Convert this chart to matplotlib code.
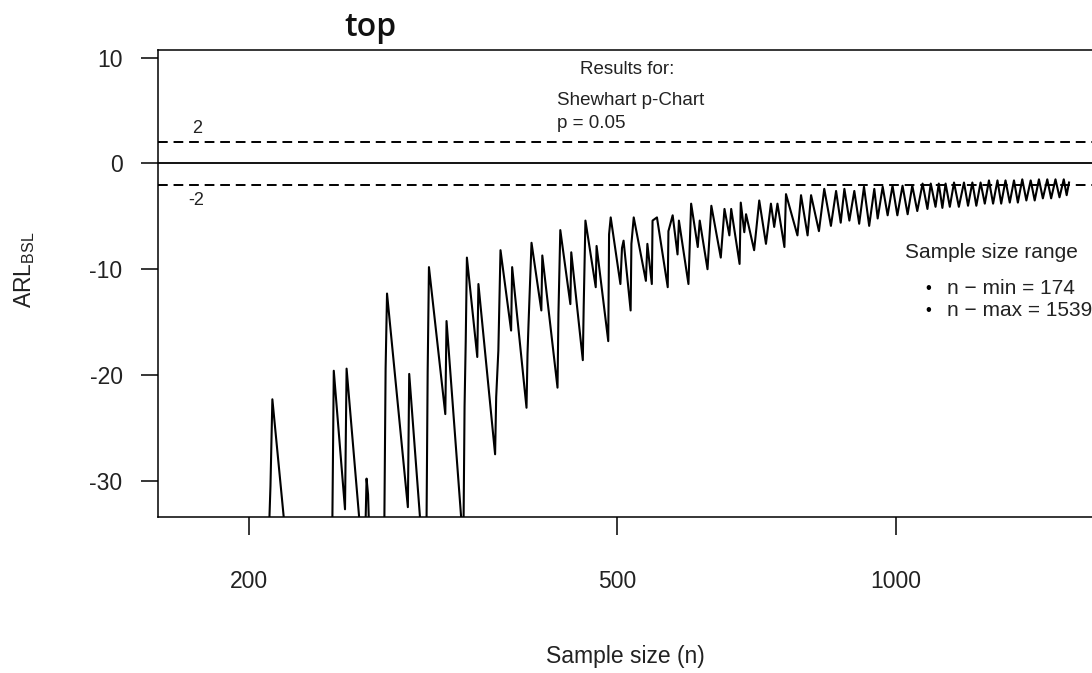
import matplotlib
matplotlib.use('Agg')
import matplotlib.pyplot as plt

plt.rcParams['font.family'] = ['Liberation Sans', 'DejaVu Sans']
plt.rcParams['axes.unicode_minus'] = False

# turning points of the ARL_BSL curve
# (values under the axis floor are parked at -36 so they get clipped)
n_points = [174, 210, 211, 212, 218, 219,
            246, 247, 254, 255, 263, 264,
            267, 268, 269, 270,
            280, 281, 282, 297, 298, 306, 307,
            311, 312, 313, 326, 327, 339, 340,
            341, 342, 343, 344, 353, 354, 369, 370, 372, 374,
            384, 385, 399, 400, 401, 404,
            414, 415, 431, 432, 434,
            445, 446, 459, 460, 462,
            474, 475, 489, 490, 492,
            504, 506, 508, 517, 518, 521,
            537, 539, 545, 546, 552, 567, 568, 574,
            581, 583, 597, 601,
            611, 614, 626, 632, 647, 653, 661, 664,
            678, 680, 686, 689, 703, 712, 724, 733,
            739, 745, 758, 761, 783, 790, 803, 810,
            826, 837, 851, 862, 872, 880, 891, 902,
            913, 924, 936, 948, 956, 968, 980, 992,
            1004, 1017, 1030, 1042, 1055, 1069, 1082, 1091,
            1104, 1113, 1123, 1132, 1144, 1156, 1170, 1185,
            1197, 1210, 1222, 1235, 1248, 1261, 1274, 1288,
            1300, 1314, 1328, 1342, 1355, 1370, 1384, 1399,
            1413, 1428, 1442, 1458, 1472, 1488, 1503, 1519,
            1530, 1539]
arl_points = [-36, -36, -30.5, -22.3, -33.3, -36,
              -36, -19.6, -32.7, -19.4, -33.3, -36,
              -36, -29.8, -31.3, -36,
              -36, -19.4, -12.3, -32.5, -19.9, -33.3, -36,
              -36, -19.7, -9.8, -23.7, -14.9, -33.3, -36,
              -36, -23.0, -16.8, -8.9, -18.3, -11.4, -27.5, -22.1, -17.7, -8.2,
              -15.8, -9.8, -23.1, -18.0, -15.2, -7.5,
              -13.9, -8.7, -21.2, -14.2, -6.3,
              -13.3, -8.4, -18.6, -13.6, -5.4,
              -11.7, -7.8, -16.8, -6.7, -5.1,
              -11.4, -8.0, -7.3, -13.9, -7.6, -5.1,
              -11.1, -7.6, -11.4, -5.4, -5.1, -11.7, -6.4, -4.9,
              -8.6, -5.4, -11.4, -3.8,
              -7.9, -5.4, -10.0, -4.0, -8.9, -4.3, -6.8, -4.3,
              -9.5, -3.7, -6.5, -4.8, -8.2, -3.5, -7.6, -3.8,
              -6.0, -3.8, -7.9, -2.9, -6.8, -3.0, -6.8, -3.0,
              -6.4, -2.4, -5.9, -2.6, -5.6, -2.4, -5.4, -2.6,
              -5.7, -2.2, -5.9, -2.4, -5.2, -2.2, -4.9, -2.1,
              -4.9, -2.1, -4.8, -2.1, -4.5, -1.9, -4.3, -1.9,
              -4.1, -1.9, -4.2, -1.9, -4.1, -1.8, -4.1, -1.8,
              -4.0, -1.8, -4.0, -1.8, -3.8, -1.6, -3.8, -1.6,
              -3.8, -1.6, -3.7, -1.6, -3.7, -1.5, -3.5, -1.6,
              -3.5, -1.5, -3.3, -1.5, -3.3, -1.5, -3.2, -1.5,
              -3.0, -1.8]

x_ticks = [200, 500, 1000]
y_ticks = [-30, -20, -10, 0, 10]
band = 2
n_min = 174
n_max = 1539

fig = plt.figure(figsize=(10.92, 6.73), dpi=100)
# the right edge of the plot box runs past the picture, as in the original
ax = fig.add_axes([0.1447, 0.2318, 0.8663, 0.6939])

ax.plot(n_points, arl_points, color='black', lw=1.5)
ax.axhline(0, color='black', lw=1.3)
ax.axhline(band, color='black', lw=1.4, dashes=(5, 3))
ax.axhline(-band, color='black', lw=1.4, dashes=(5, 3))

ax.set_xscale('log')
ax.set_xlim(159.5, 1679)
ax.set_ylim(-33.43, 10.73)
ax.set_xticks(x_ticks)
ax.set_xticklabels([str(t) for t in x_ticks])
ax.minorticks_off()
ax.set_yticks(y_ticks)
ax.set_yticklabels([str(t) for t in y_ticks])
ax.tick_params(axis='x', length=13, width=1.1, pad=25, labelsize=16.5, colors='#222222')
ax.tick_params(axis='y', length=12.5, width=1.1, pad=13, labelsize=16.5, colors='#222222')
ax.tick_params(color='black')
for s in ax.spines.values():
    s.set_linewidth(1.1)

ax.text(176, band + 1.35, str(band), ha='center', va='center', fontsize=13, color='#222222')
ax.text(175.3, -band - 1.5, str(-band), ha='center', va='center', fontsize=13, color='#222222')

fig.text(0.3388, 0.9584, 'top', ha='center', va='center', fontsize=23,
         family=['Open Sans', 'DejaVu Sans'], weight='semibold', color='#111111')

fig.text(0.574, 0.896, 'Results for:', ha='center', va='center', fontsize=13.5, color='#222222')
fig.text(0.510, 0.850, 'Shewhart p-Chart', ha='left', va='center', fontsize=13.5, color='#222222')
fig.text(0.510, 0.8158, 'p = 0.05', ha='left', va='center', fontsize=13.5, color='#222222')

fig.text(0.8288, 0.6241, 'Sample size range', ha='left', va='center', fontsize=15, color='#222222')
fig.text(0.8498, 0.5706, '•', ha='center', va='center', fontsize=12)
fig.text(0.8498, 0.5379, '•', ha='center', va='center', fontsize=12)
fig.text(0.8672, 0.5706, 'n − min = %d' % n_min, ha='left', va='center', fontsize=15, color='#222222')
fig.text(0.8672, 0.5379, 'n − max = %d' % n_max, ha='left', va='center', fontsize=15, color='#222222')

fig.text(0.5723, 0.0238, 'Sample size (n)', ha='center', va='center', fontsize=16.5, color='#222222')
fig.text(0.0229, 0.5988, r'ARL$\mathregular{_{BSL}}$', ha='center', va='center',
         rotation=90, fontsize=16.5, color='#222222')

fig.savefig('out.png', dpi=100)
